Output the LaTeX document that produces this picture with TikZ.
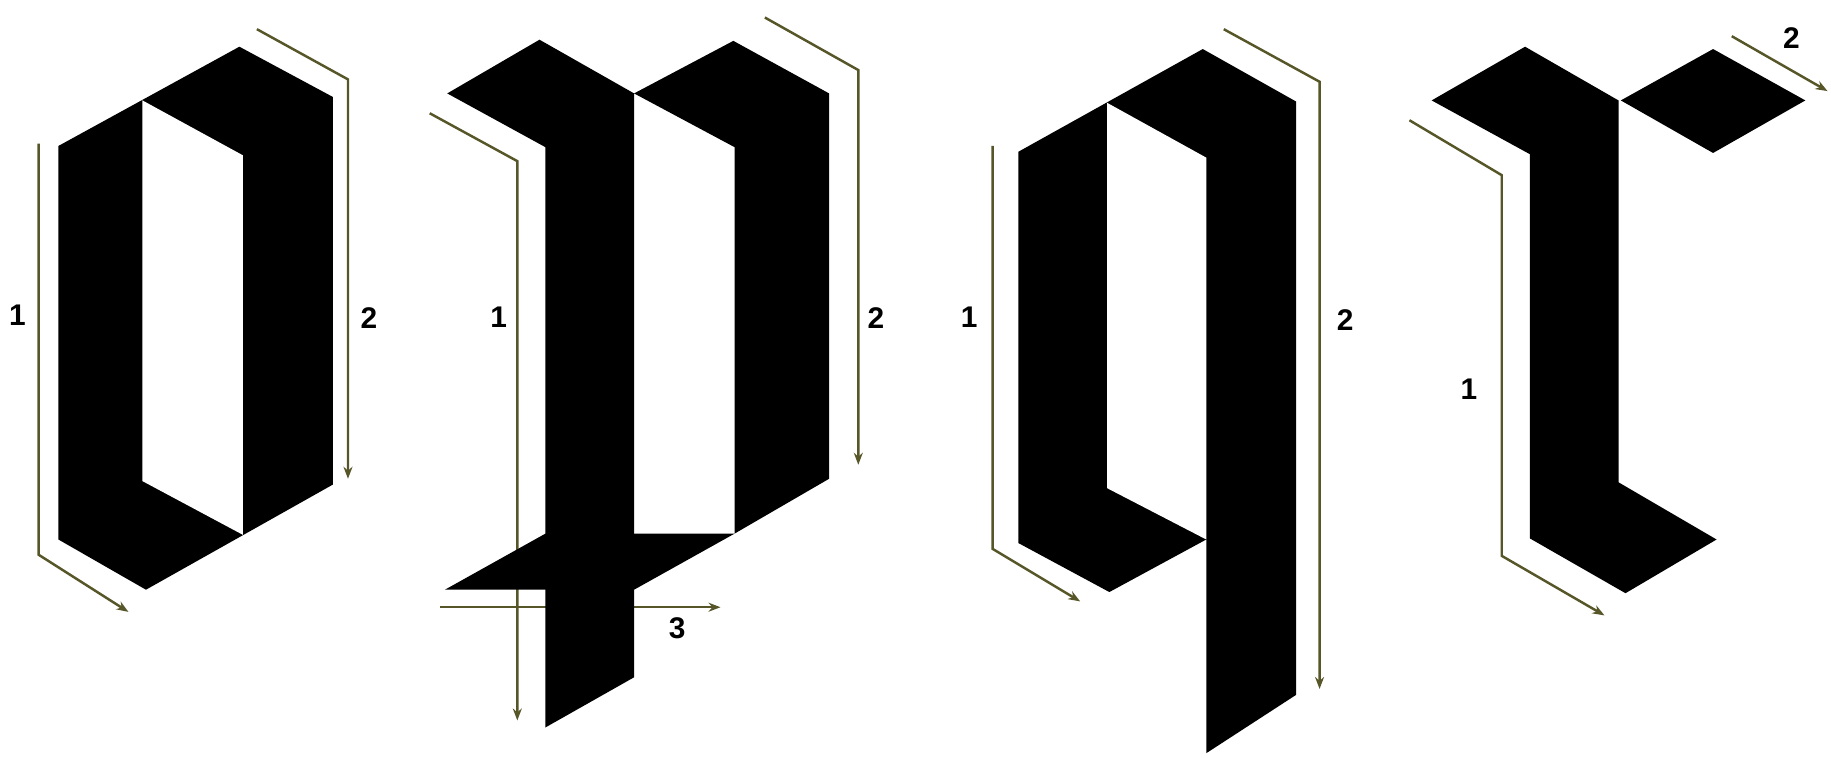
\documentclass[tikz,border=0pt]{standalone}
\usepackage{fontspec}
\setmainfont{Liberation Sans}
\usepackage{tikz}
\usetikzlibrary{arrows.meta}
\definecolor{guide}{RGB}{86,86,40}

\begin{document}
\begin{tikzpicture}[x=0.11677mm,y=-0.11677mm,
  ink/.style={fill=black},
  hole/.style={fill=white},
  dir/.style={draw=guide,line width=0.7pt,-{Stealth[length=1.2mm,width=0.9mm]}},
  num/.style={font=\fontsize{8.5}{10}\selectfont\bfseries,inner sep=0pt}]
\useasboundingbox (0,0) rectangle (1568,649);
% stroke directions
\draw[dir] (33,123) -- (33,475) -- (110,524);
\draw[dir] (220,25) -- (298,68) -- (298,410);
\draw[dir] (368,97) -- (443,138) -- (443,617);
\draw[dir] (655,15) -- (735,60) -- (735,398);
\draw[dir] (377,520) -- (617,520);
\draw[dir] (850,125) -- (850,470) -- (925,515);
\draw[dir] (1048,25) -- (1130,70) -- (1130,590);
\draw[dir] (1207,103) -- (1286,150) -- (1286,476) -- (1374,527);
\draw[dir] (1483,31) -- (1565,78);
% letter o
\fill[ink] (50,125) -- (205,40) -- (285,83) -- (285,415) -- (125,505) -- (50,462) -- cycle;
\fill[hole] (122,86) -- (208,133) -- (208,458) -- (122,412) -- cycle;
% letter p
\fill[ink] (383,80) -- (462,34) -- (543,80) -- (543,580) -- (467,623) -- (467,126) -- cycle;
\fill[ink] (543,80) -- (628,35) -- (710,80) -- (710,410) -- (629,457) -- (629,126) -- cycle;
\fill[ink] (381,505) -- (467,457) -- (629,457) -- (543,505) -- cycle;
% letter q
\fill[ink] (872,130) -- (1030,42) -- (1110,87) -- (1110,595) -- (1033,645) -- (1033,462)
  -- (950,507) -- (872,465) -- cycle;
\fill[hole] (948,88) -- (1033,135) -- (1033,462) -- (948,418) -- cycle;
% letter r
\fill[ink] (1226,86) -- (1306,40) -- (1386,86) -- (1386,413) -- (1470,462) -- (1392,508)
  -- (1310,461) -- (1310,132) -- cycle;
\fill[ink] (1388,86) -- (1467,42) -- (1546,86) -- (1467,131) -- cycle;
% numbers
\node[num] (o1) at (15,270) {1};
\node[num] (o2) at (316,272) {2};
\node[num] (p1) at (427,272) {1};
\node[num] (p2) at (750,272) {2};
\node[num] (p3) at (580,538) {3};
\node[num] (q1) at (830,272) {1};
\node[num] (q2) at (1152,274) {2};
\node[num] (r1) at (1258,333) {1};
\node[num] (r2) at (1534,33) {2};
\end{tikzpicture}
\end{document}
